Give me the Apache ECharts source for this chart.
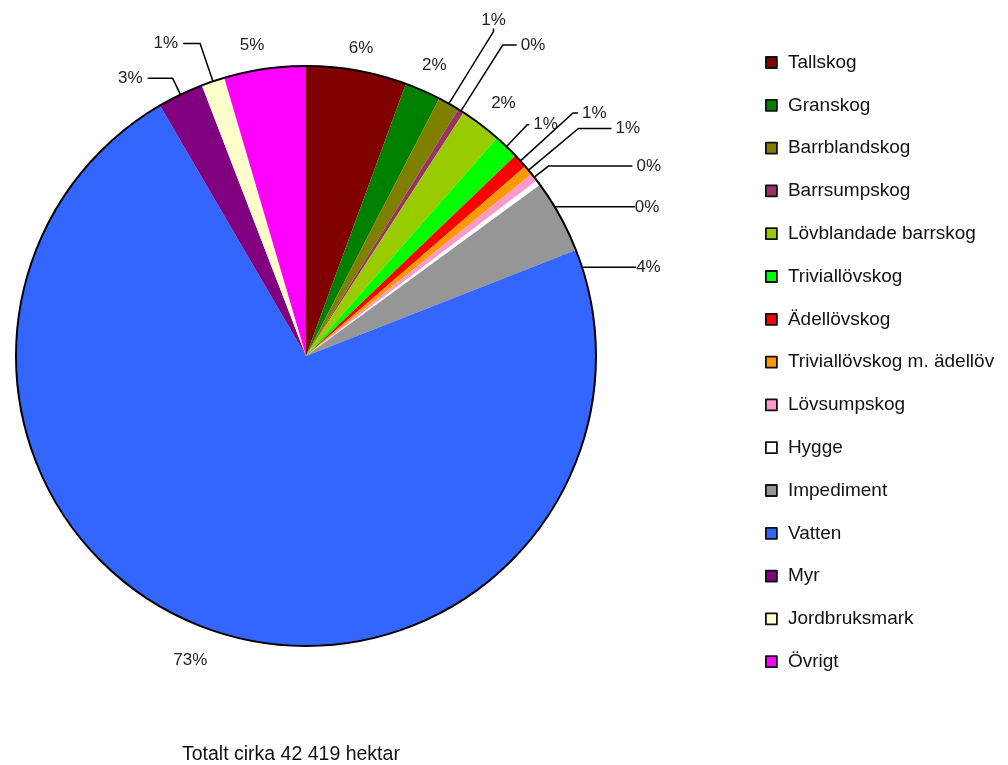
<!DOCTYPE html>
<html>
<head>
<meta charset="utf-8">
<script src="https://cdn.jsdelivr.net/npm/echarts@6/dist/echarts.min.js"></script>
<style>
html,body{margin:0;padding:0;background:#fff;}
#chart{width:1008px;height:765px;}
</style>
</head>
<body>
<div id="chart"></div>
<script>
const categories = ["Tallskog","Granskog","Barrblandskog","Barrsumpskog","Lövblandade barrskog","Triviallövskog","Ädellövskog","Triviallövskog m. ädellöv","Lövsumpskog","Hygge","Impediment","Vatten","Myr","Jordbruksmark","Övrigt"];
// share of total area, percent
const values = [5.6, 2.0, 1.2, 0.35, 2.3, 1.4, 0.8, 0.55, 0.45, 0.3, 4.1, 72.55, 2.55, 1.3, 4.55];
const colors = ["#800000","#008000","#808000","#993366","#99CC00","#00FF00","#FF0000","#FF9900","#FF99CC","#FFFFFF","#969696","#3366FF","#800080","#FFFFCC","#FF00FF"];
const subtitle = "Totalt cirka 42 419 hektar";

// label leader styling per slice: [showLine, length, length2, distance, nudge x, nudge y]
const leaderStyle = [
  [false,23,0,-12,0,0],
  [false,28,0,-12,0,0],
  [true,96,3,4,-22,0],
  [true,78,14,4,0,0],
  [false,27,6,-12,0,0],
  [true,30,2,4,0,0],
  [true,71,5,4,0,0],
  [true,65,33,4,0,0],
  [true,18,84,4,0,0],
  [true,3,90,4,0,26],
  [true,0,72,4,0,51],
  [false,32,10,-17,0,0],
  [true,18,25,5,0,0],
  [true,40,17,5,0,0],
  [false,24,9,-12,0,0]
];

const chart = echarts.init(document.getElementById('chart'), null, {renderer:'canvas'});
const data = categories.map((c,i)=>({
  name:c, value:values[i],
  itemStyle:{color:colors[i]},
  label:{distanceToLabelLine:leaderStyle[i][3]},
  labelLine:{show:leaderStyle[i][0],length:leaderStyle[i][1],length2:leaderStyle[i][2]}
}));
chart.setOption({
  animation:false,
  backgroundColor:'#fff',
  title:{text:subtitle,left:177,top:740,textStyle:{fontFamily:'Liberation Sans',fontSize:19.5,fontWeight:'normal',color:'#111'}},
  legend:{
    orient:'vertical', left:765, top:53, padding:0,
    itemWidth:11, itemHeight:11, itemGap:23.8, icon:'rect',
    itemStyle:{borderColor:'#111',borderWidth:1.8},
    textStyle:{fontFamily:'Liberation Sans',fontSize:19,color:'#111',padding:[0,0,0,6]},
    data:categories
  },
  series:[{
    type:'pie',
    center:[306,356], radius:290,
    startAngle:90, clockwise:true,
    percentPrecision:0,
    avoidLabelOverlap:false,
    label:{show:true,position:'outside',formatter:'{d}%',fontFamily:'Liberation Sans',fontSize:17,color:'#222'},
    labelLine:{lineStyle:{color:'#000',width:1.5}},
    labelLayout:function(p){
      const s = leaderStyle[p.dataIndex];
      if (!s || (!s[4] && !s[5])) return {};
      return {x:p.labelRect.x + s[4], y:p.labelRect.y + s[5], align:'left', verticalAlign:'top'};
    },
    itemStyle:{borderWidth:0},
    emphasis:{disabled:true},
    data:data
  },{
    type:'pie', silent:true,
    center:[306,356], radius:290,
    label:{show:false}, labelLine:{show:false},
    itemStyle:{color:'rgba(0,0,0,0)',borderColor:'#000',borderWidth:2},
    emphasis:{disabled:true},
    data:[{value:1,name:'_outline'}]
  }]
});
</script>
</body>
</html>
